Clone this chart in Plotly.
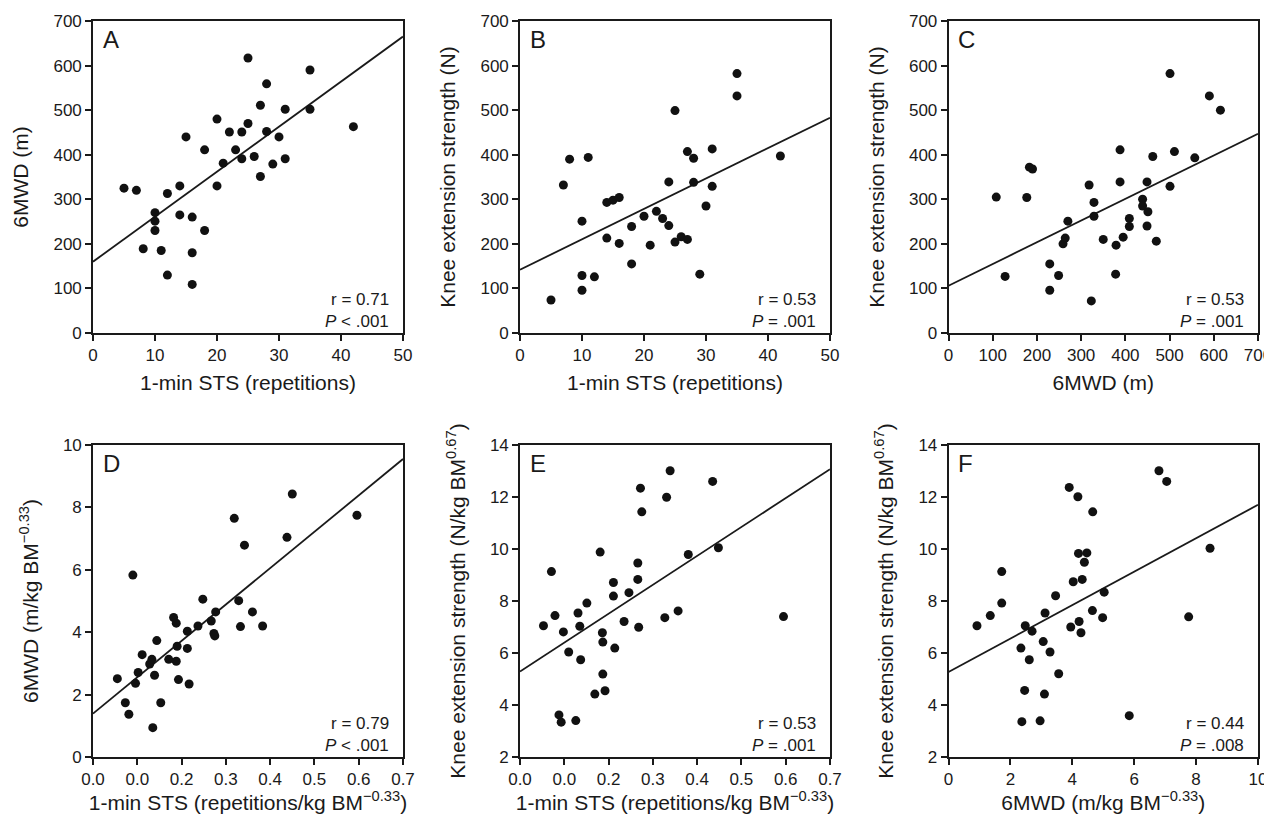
import plotly.graph_objects as go

# ---------------- data ----------------
a_x = [5.0, 7.0, 8.1, 10.0, 10.0, 10.0, 11.0, 12.0, 12.0, 14.0, 14.0, 15.0, 16.0, 16.0, 16.0,
       18.0, 18.0, 20.0, 20.0, 21.0, 22.0, 23.0, 24.0, 24.0, 25.0, 25.0, 26.0, 27.0, 27.0,
       28.0, 28.0, 29.0, 30.0, 31.0, 31.0, 35.0, 35.0, 42.0]
a_y = [325, 320, 189, 270, 251, 230, 185, 313, 130, 330, 265, 440, 260, 180, 109,
       411, 230, 480, 330, 381, 451, 411, 451, 391, 470, 617, 396, 511, 351,
       559, 452, 379, 440, 502, 391, 590, 502, 463]

b_x = [5.0, 7.0, 8.0, 11.0, 10.0, 10.0, 10.0, 12.0, 14.0, 15.0, 16.0, 14.0, 16.0, 18.0, 18.0,
       20.0, 21.0, 22.0, 23.0, 24.0, 24.0, 25.0, 25.0, 26.0, 27.0, 27.0, 28.0, 28.0, 29.0,
       30.0, 31.0, 31.0, 35.0, 35.0, 42.0]
b_y = [74, 332, 390, 394, 251, 129, 96, 126, 293, 298, 304, 213, 201, 239, 155,
       262, 197, 273, 257, 339, 241, 499, 204, 216, 210, 407, 392, 338, 132,
       285, 413, 329, 582, 532, 397]

c_x = [108, 128, 177, 183, 190, 229, 229, 249, 259, 264, 270, 318, 329, 329, 323, 350, 378,
       379, 388, 388, 395, 409, 409, 439, 439, 449, 451, 449, 462, 470, 501, 501, 511,
       557, 590, 615]
c_y = [305, 127, 304, 372, 368, 155, 96, 129, 200, 213, 251, 332, 293, 262, 72, 210, 132,
       197, 411, 339, 215, 257, 239, 300, 285, 339, 272, 240, 396, 206, 582, 329, 407,
       393, 532, 500]

d_x = [0.055, 0.073, 0.081, 0.090, 0.096, 0.102, 0.111, 0.128, 0.133, 0.135, 0.139, 0.144,
       0.153, 0.171, 0.182, 0.188, 0.190, 0.188, 0.193, 0.213, 0.213, 0.217, 0.237, 0.248,
       0.267, 0.273, 0.275, 0.277, 0.319, 0.329, 0.333, 0.342, 0.360, 0.383, 0.438, 0.450,
       0.596]
d_y = [2.51, 1.74, 1.37, 5.83, 2.36, 2.71, 3.28, 2.98, 3.13, 0.94, 2.62, 3.73,
       1.74, 3.13, 4.47, 4.29, 3.55, 3.07, 2.48, 4.03, 3.48, 2.34, 4.20, 5.06,
       4.36, 3.96, 3.88, 4.65, 7.65, 5.01, 4.18, 6.79, 4.65, 4.20, 7.04, 8.43,
       7.75]

e_x = [0.053, 0.071, 0.079, 0.088, 0.093, 0.098, 0.110, 0.126, 0.131, 0.135, 0.137, 0.151,
       0.169, 0.181, 0.186, 0.187, 0.187, 0.192, 0.211, 0.211, 0.214, 0.235, 0.246, 0.266,
       0.266, 0.268, 0.272, 0.275, 0.327, 0.331, 0.339, 0.357, 0.380, 0.435, 0.448, 0.595]
e_y = [7.05, 9.13, 7.44, 3.62, 3.34, 6.81, 6.04, 3.40, 7.54, 7.03, 5.74, 7.92,
       4.42, 9.88, 6.78, 6.42, 5.19, 4.55, 8.71, 8.19, 6.19, 7.21, 8.32, 9.46,
       8.83, 6.99, 12.34, 11.43, 7.36, 11.99, 13.01, 7.62, 9.79, 12.60, 10.05, 7.40]

f_x = [0.92, 1.35, 1.72, 1.72, 2.34, 2.37, 2.46, 2.48, 2.61, 2.70, 2.96, 3.06, 3.10, 3.12,
       3.28, 3.46, 3.56, 3.90, 3.95, 4.03, 4.18, 4.20, 4.22, 4.28, 4.32, 4.39, 4.47, 4.66,
       4.65, 4.98, 5.03, 5.84, 6.80, 7.05, 7.76, 8.45]
f_y = [7.05, 7.44, 9.13, 7.92, 6.19, 3.36, 4.56, 7.05, 5.74, 6.84, 3.39, 6.44, 4.42, 7.54,
       6.04, 8.20, 5.20, 12.37, 7.00, 8.74, 12.01, 9.83, 7.21, 6.78, 8.83, 9.49, 9.85, 11.43,
       7.63, 7.36, 8.34, 3.59, 13.01, 12.60, 7.39, 10.03]

# regression lines (end points)
line_x = {"A": [0, 50], "B": [0, 50], "C": [0, 700], "D": [0, 0.7], "E": [0, 0.7], "F": [0, 10]}
line_y = {"A": [160, 665], "B": [142, 483], "C": [106, 447], "D": [1.39, 9.55],
          "E": [5.29, 13.07], "F": [5.27, 11.70]}

r_text = {"A": "r = 0.71", "B": "r = 0.53", "C": "r = 0.53",
          "D": "r = 0.79", "E": "r = 0.53", "F": "r = 0.44"}
p_text = {"A": "<i>P</i> < .001", "B": "<i>P</i> = .001", "C": "<i>P</i> = .001",
          "D": "<i>P</i> < .001", "E": "<i>P</i> = .001", "F": "<i>P</i> = .008"}

x_titles = {"A": "1-min STS (repetitions)", "B": "1-min STS (repetitions)", "C": "6MWD (m)",
            "D": "1-min STS (repetitions/kg BM<sup>\u22120.33</sup>)",
            "E": "1-min STS (repetitions/kg BM<sup>\u22120.33</sup>)",
            "F": "6MWD (m/kg BM<sup>\u22120.33</sup>)"}
y_titles = {"A": "6MWD (m)", "B": "Knee extension strength (N)", "C": "Knee extension strength (N)",
            "D": "6MWD (m/kg BM<sup>\u22120.33</sup>)",
            "E": "Knee extension strength (N/kg BM<sup>0.67</sup>)",
            "F": "Knee extension strength (N/kg BM<sup>0.67</sup>)"}

sts_ticks = [0, 10, 20, 30, 40, 50]
mwd_ticks = [0, 100, 200, 300, 400, 500, 600, 700]
rel_sts_ticks = [0.0, 0.1, 0.2, 0.3, 0.4, 0.5, 0.6, 0.7]
rel_sts_labels = ["0.0", "0.0", "0.2", "0.3", "0.4", "0.5", "0.6", "0.7"]
d_y_ticks = [0, 2, 4, 6, 8, 10]
rel_ke_ticks = [2, 4, 6, 8, 10, 12, 14]
rel_mwd_ticks = [0, 2, 4, 6, 8, 10]

data = {"A": (a_x, a_y), "B": (b_x, b_y), "C": (c_x, c_y),
        "D": (d_x, d_y), "E": (e_x, e_y), "F": (f_x, f_y)}
xr = {"A": [0, 50], "B": [0, 50], "C": [0, 700], "D": [0, 0.7], "E": [0, 0.7], "F": [0, 10]}
yr = {"A": [0, 700], "B": [0, 700], "C": [0, 700], "D": [0, 10], "E": [2, 14], "F": [2, 14]}
xt = {"A": (sts_ticks, None), "B": (sts_ticks, None), "C": (mwd_ticks, None),
      "D": (rel_sts_ticks, rel_sts_labels), "E": (rel_sts_ticks, rel_sts_labels),
      "F": (rel_mwd_ticks, None)}
yt = {"A": mwd_ticks, "B": mwd_ticks, "C": mwd_ticks, "D": d_y_ticks,
      "E": rel_ke_ticks, "F": rel_ke_ticks}

# ---------------- layout geometry (pixels, in the 1272x822 window) ----------------
PAGE_MARGIN = 8            # default body margin of the html page
W, H = 1272 - PAGE_MARGIN, 822 - 2 * PAGE_MARGIN
col_px = [(93, 403), (520, 830), (948.5, 1258)]
row_px = [(21, 333), (445, 757)]
panels = ["A", "B", "C", "D", "E", "F"]

FONT = "Liberation Sans, Arial, Helvetica, sans-serif"
INK = "#1a1a1a"

fig = go.Figure()
layout = dict(width=W, height=H, margin=dict(l=0, r=0, t=0, b=0, autoexpand=False),
              paper_bgcolor="white", plot_bgcolor="white", showlegend=False,
              font=dict(family=FONT, color=INK, size=17))
annotations = []

for i, p in enumerate(panels):
    r, c = divmod(i, 3)
    n = i + 1
    xa = "xaxis" if n == 1 else f"xaxis{n}"
    ya = "yaxis" if n == 1 else f"yaxis{n}"
    xref = "x" if n == 1 else f"x{n}"
    yref = "y" if n == 1 else f"y{n}"
    x0, x1 = (v - PAGE_MARGIN for v in col_px[c])
    y0, y1 = (v - PAGE_MARGIN for v in row_px[r])
    tv, tl = xt[p]
    common = dict(showline=True, mirror=True, linecolor=INK, linewidth=1.6,
                  ticks="outside", ticklen=6, tickwidth=1.6, tickcolor=INK, automargin=False,
                  ticklabeloverflow="allow",
                  showgrid=False, zeroline=False, tickfont=dict(size=17, family=FONT, color=INK))
    xdict = dict(domain=[x0 / W, x1 / W], range=xr[p], anchor=yref, tickvals=tv,
                 title=dict(text=x_titles[p], font=dict(size=21, family=FONT, color=INK), standoff=11),
                 **common)
    if tl is not None:
        xdict["ticktext"] = tl
    layout[xa] = xdict
    layout[ya] = dict(domain=[1 - y1 / H, 1 - y0 / H], range=yr[p], anchor=xref, tickvals=yt[p],
                      title=dict(text=y_titles[p], font=dict(size=21, family=FONT, color=INK), standoff=19),
                      **common)

    xs, ys = data[p]
    fig.add_trace(go.Scatter(x=line_x[p], y=line_y[p], mode="lines", xaxis=xref, yaxis=yref,
                             line=dict(color=INK, width=1.8), hoverinfo="skip"))
    fig.add_trace(go.Scatter(x=xs, y=ys, mode="markers", xaxis=xref, yaxis=yref,
                             marker=dict(color="#111111", size=9, line=dict(width=0))))

    annotations.append(dict(text=p, xref=f"{xref} domain", yref=f"{yref} domain",
                            x=0.025, y=0.99, xanchor="left", yanchor="top", showarrow=False,
                            font=dict(size=24, family=FONT, color=INK)))
    annotations.append(dict(text=r_text[p], xref=f"{xref} domain", yref=f"{yref} domain",
                            x=0.96, y=0.107, xanchor="right", yanchor="middle", showarrow=False,
                            font=dict(size=17, family=FONT, color=INK)))
    annotations.append(dict(text=p_text[p], xref=f"{xref} domain", yref=f"{yref} domain",
                            x=0.96, y=0.038, xanchor="right", yanchor="middle", showarrow=False,
                            font=dict(size=17, family=FONT, color=INK)))

layout["annotations"] = annotations
fig.update_layout(**layout)
fig.write_html("out.html")
